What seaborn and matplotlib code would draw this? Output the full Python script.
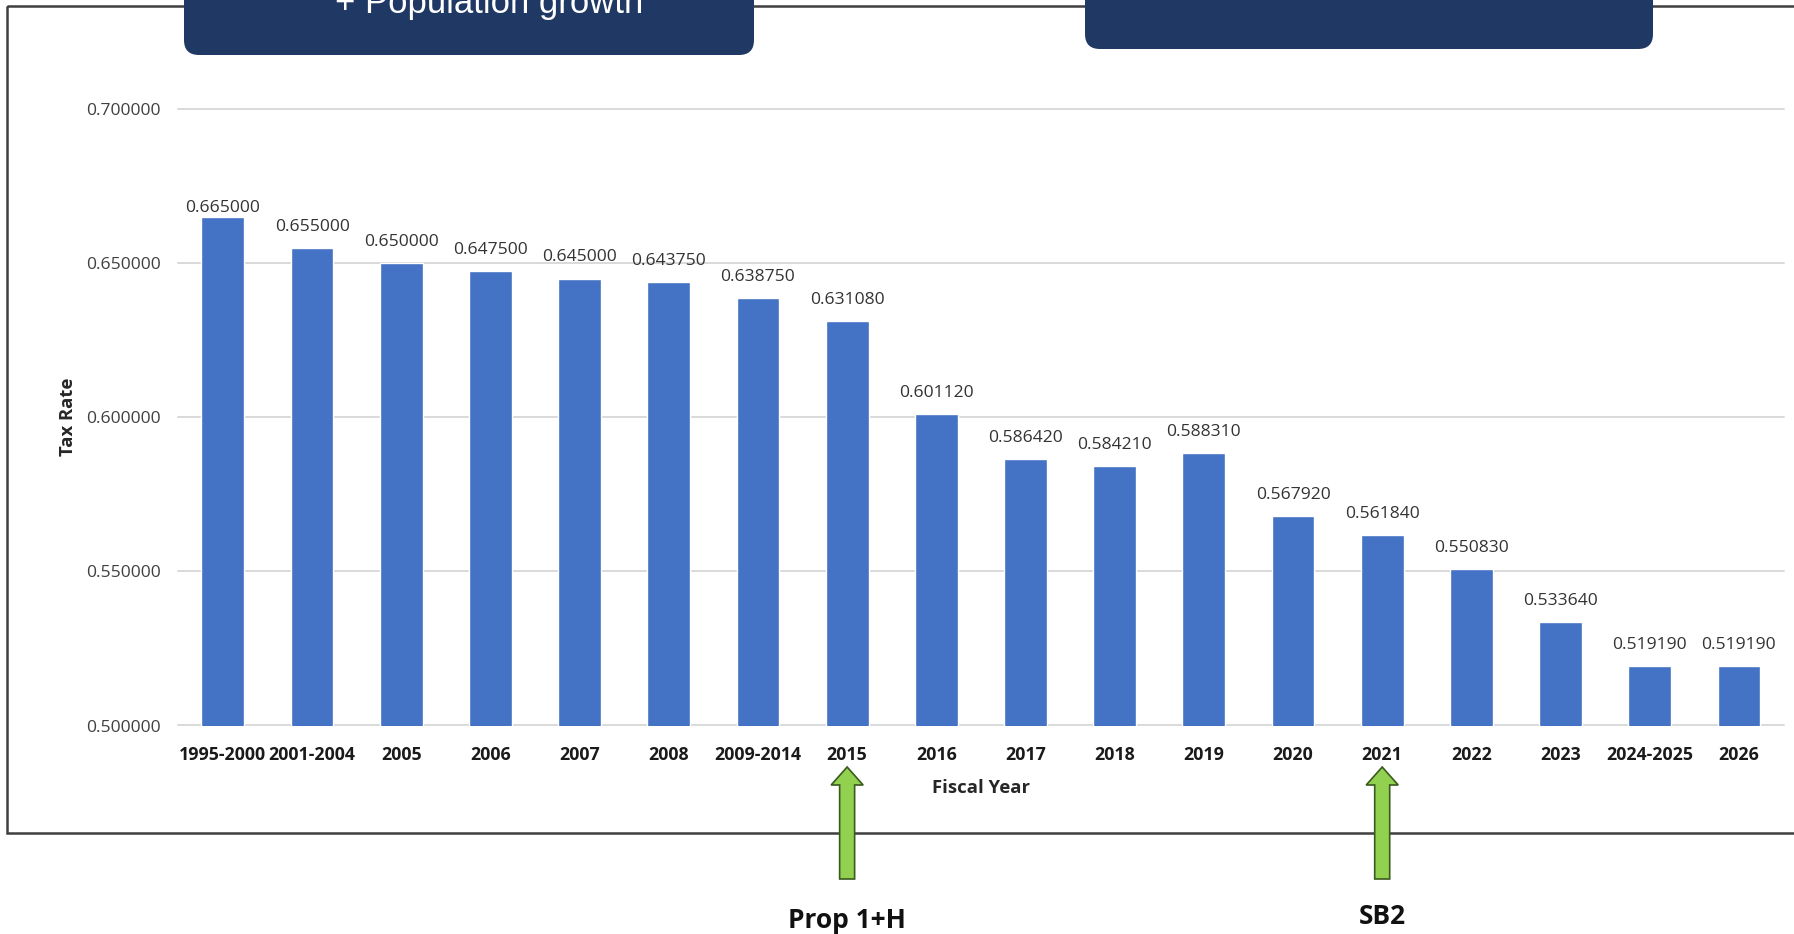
import matplotlib
matplotlib.use('Agg')
import matplotlib.pyplot as plt
import pandas as pd
import seaborn as sns
from matplotlib.transforms import Affine2D
from matplotlib.patches import FancyBboxPatch, Rectangle, Polygon

# ---- data ----
fiscal_years = ['1995-2000', '2001-2004', '2005', '2006', '2007', '2008', '2009-2014',
                '2015', '2016', '2017', '2018', '2019', '2020', '2021', '2022', '2023',
                '2024-2025', '2026']
tax_rates = [0.665000, 0.655000, 0.650000, 0.647500, 0.645000, 0.643750, 0.638750,
             0.631080, 0.601120, 0.586420, 0.584210, 0.588310, 0.567920, 0.561840,
             0.550830, 0.533640, 0.519190, 0.519190]
y_ticks = [0.50, 0.55, 0.60, 0.65, 0.70]
marked_years = ['2015', '2021']
marker_labels = ['Prop 1+H', 'SB2']
banner_text = '+ Population growth'

sns.set_theme(style='white')
FONT = ['Open Sans', 'DejaVu Sans']
plt.rcParams['font.family'] = FONT

W, H = 1794, 934
fig = plt.figure(figsize=(W / 100, H / 100), dpi=100)
fig.patch.set_facecolor('white')
ax_l, ax_r, ax_t, ax_b = 178.3, 1783.5, 109.0, 725.5
ax = fig.add_axes([ax_l / W, 1 - ax_b / H, (ax_r - ax_l) / W, (ax_b - ax_t) / H])

df = pd.DataFrame({'Fiscal Year': fiscal_years, 'Tax Rate': tax_rates})
sns.barplot(data=df, x='Fiscal Year', y='Tax Rate', color='#4472C4', saturation=1,
            width=0.48, ax=ax, zorder=3)

ax.set_xlim(-0.5, len(fiscal_years) - 0.5)
ax.set_ylim(y_ticks[0], y_ticks[-1])
ax.set_yticks(y_ticks)
ax.set_yticklabels([f'{v:.6f}' for v in y_ticks])
ax.set_axisbelow(True)
ax.grid(axis='y', color='#D9D9D9', linewidth=1.4)
for gl in ax.get_ygridlines():
    gl.set_clip_on(False)
for s in ax.spines.values():
    s.set_visible(False)

ax.tick_params(axis='y', length=0, pad=12.5, labelsize=12.6, labelcolor='#404040')
ax.tick_params(axis='x', length=0, pad=14.5, labelsize=12.8, labelcolor='#1A1A1A')
for lbl in ax.get_xticklabels():
    lbl.set_fontweight('bold')

anns = ax.bar_label(ax.containers[0], labels=[f'{v:.6f}' for v in tax_rates],
                    padding=9.5, fontsize=12.6, color='#333333')
# the tallest bar's label sits closer to its bar in the original
anns[0].xyann = (0, 0.5)

ax.set_xlabel('Fiscal Year', fontsize=13.3, fontweight='bold', color='#262626')
ax.xaxis.set_label_coords(0.5, (ax_b - 788) / (ax_b - ax_t))
ax.xaxis.label.set_va('center')
ax.set_ylabel('Tax Rate', fontsize=13.3, fontweight='bold', color='#262626')
ax.yaxis.set_label_coords((68 - ax_l) / (ax_r - ax_l), 0.5)
ax.yaxis.label.set_va('center')
ax.yaxis.label.set_ha('center')

# pixel transform with image-style (top-left origin) coordinates
pix = Affine2D().scale(1, -1).translate(0, H).scale(1 / W, 1 / H) + fig.transFigure

# outer frame
fig.add_artist(Rectangle((7, 6), W + 40, 833 - 6, fill=False, edgecolor='#3F3F3F',
                         linewidth=1.8, transform=pix, clip_on=False, zorder=1))

# dark banners at top
for x0, x1, yb in [(184, 754, 55), (1085, 1653, 49)]:
    fig.add_artist(FancyBboxPatch((x0, -60), x1 - x0, yb + 60,
                                  boxstyle='round,pad=0,rounding_size=15',
                                  facecolor='#203864', edgecolor='none',
                                  transform=pix, clip_on=False, zorder=5))
fig.text(489, 12.5, banner_text, transform=pix, color='white', fontsize=25,
         family=['Liberation Sans', 'DejaVu Sans'], ha='center', va='baseline', zorder=6)

# green arrows and legislation labels
fig.canvas.draw()
for yr, lab, ty in zip(marked_years, marker_labels, [920, 917]):
    i = fiscal_years.index(yr)
    cx = ax.transData.transform((i, 0))[0] * W / fig.bbox.width
    pts = [(cx - 7.5, 879), (cx - 7.5, 785), (cx - 16, 785), (cx, 767),
           (cx + 16, 785), (cx + 7.5, 785), (cx + 7.5, 879)]
    fig.add_artist(Polygon(pts, closed=True, facecolor='#92D050', edgecolor='#3A5A1E',
                           linewidth=1.2, transform=pix, clip_on=False, zorder=6))
    fig.text(cx, ty, lab, transform=pix, fontsize=19, fontweight='bold',
             color='#111111', ha='center', va='center')

fig.savefig('out.png', dpi=100, facecolor='white')
